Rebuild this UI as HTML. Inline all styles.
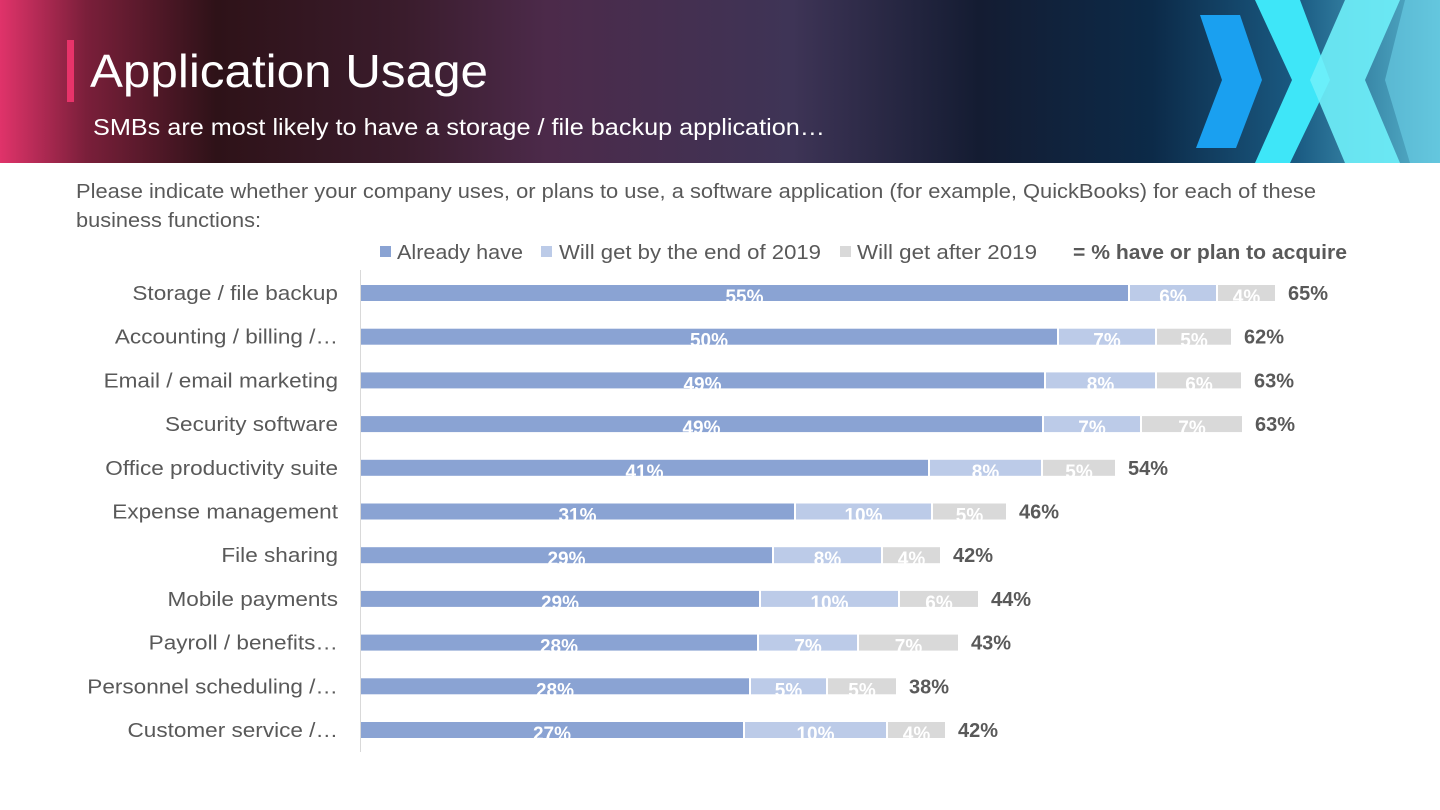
<!DOCTYPE html>
<html><head><meta charset="utf-8"><style>
html,body{margin:0;padding:0;width:1440px;height:810px;overflow:hidden;background:#fff}
svg{display:block}
text{font-family:"Liberation Sans",sans-serif}
</style></head><body>
<svg width="1440" height="810" viewBox="0 0 1440 810" xmlns="http://www.w3.org/2000/svg">
<defs>
<linearGradient id="hg" x1="0" y1="0" x2="1" y2="0">
<stop offset="0" stop-color="#e0336a"/>
<stop offset="0.06" stop-color="#7a1f3a"/>
<stop offset="0.15" stop-color="#2e1218"/>
<stop offset="0.28" stop-color="#3a1c2c"/>
<stop offset="0.38" stop-color="#4c2a4a"/>
<stop offset="0.55" stop-color="#3e3456"/>
<stop offset="0.68" stop-color="#141c32"/>
<stop offset="0.8" stop-color="#0c2a48"/>
<stop offset="0.9" stop-color="#1a5a82"/>
<stop offset="1" stop-color="#5ab8d0"/>
</linearGradient>
</defs>
<rect x="0" y="0" width="1440" height="163" fill="url(#hg)"/>
<polygon points="1200,15 1240,15 1262,80 1236,148 1196,148 1222,80" fill="#1aa0f0"/>
<polygon points="1255,0 1300,0 1330,80 1290,163 1255,163 1292,80" fill="#3ee6f8"/>
<polygon points="1345,0 1400,0 1365,80 1400,163 1345,163 1310,80" fill="#6ff0fa" opacity="0.9"/>
<polygon points="1405,0 1440,0 1440,163 1410,163 1385,80" fill="#6ad0e8" opacity="0.6"/>
<rect x="67" y="40" width="7" height="62" fill="#e8336a"/>
<text x="90" y="87" font-size="46" fill="#fff" textLength="398" lengthAdjust="spacingAndGlyphs">Application Usage</text>
<text x="93" y="135" font-size="23" fill="#fff" textLength="732" lengthAdjust="spacingAndGlyphs">SMBs are most likely to have a storage / file backup application…</text>
<text x="76" y="198" font-size="20" fill="#595959" textLength="1240" lengthAdjust="spacingAndGlyphs">Please indicate whether your company uses, or plans to use, a software application (for example, QuickBooks) for each of these</text>
<text x="76" y="227" font-size="20" fill="#595959" textLength="185" lengthAdjust="spacingAndGlyphs">business functions:</text>
<rect x="380" y="246" width="11" height="11" fill="#8aa3d3"/>
<text x="397" y="259" font-size="20" fill="#595959" textLength="126" lengthAdjust="spacingAndGlyphs">Already have</text>
<rect x="541" y="246" width="11" height="11" fill="#bccbe8"/>
<text x="559" y="259" font-size="20" fill="#595959" textLength="262" lengthAdjust="spacingAndGlyphs">Will get by the end of 2019</text>
<rect x="840" y="246" width="11" height="11" fill="#d9d9d9"/>
<text x="857" y="259" font-size="20" fill="#595959" textLength="180" lengthAdjust="spacingAndGlyphs">Will get after 2019</text>
<text x="1073" y="259" font-size="20" font-weight="bold" fill="#595959" textLength="274" lengthAdjust="spacingAndGlyphs">= % have or plan to acquire</text>
<line x1="360.5" y1="270" x2="360.5" y2="752" stroke="#d9d9d9" stroke-width="1"/>
<g id="bars"></g>
</svg>
<script>
var rows=[
["Storage / file backup",361,1128,1216,1275,55,6,4,65],
["Accounting / billing /…",361,1057,1155,1231,50,7,5,62],
["Email / email marketing",361,1044,1155,1241,49,8,6,63],
["Security software",361,1042,1140,1242,49,7,7,63],
["Office productivity suite",361,928,1041,1115,41,8,5,54],
["Expense management",361,794,931,1006,31,10,5,46],
["File sharing",361,772,881,940,29,8,4,42],
["Mobile payments",361,759,898,978,29,10,6,44],
["Payroll / benefits…",361,757,857,958,28,7,7,43],
["Personnel scheduling /…",361,749,826,896,28,5,5,38],
["Customer service /…",361,743,886,945,27,10,4,42]];
var g=document.getElementById('bars'),h="";
rows.forEach(function(r,i){
 var cy=293+i*43.7,y=cy-8;
 h+='<text class="cat" x="338" y="'+(cy+7)+'" font-size="20.5" fill="#595959" text-anchor="end">'+r[0]+'</text>';
 var segs=[[r[1],r[2],'#8aa3d3',r[5]],[r[2]+2,r[3],'#bccbe8',r[6]],[r[3]+2,r[4],'#d9d9d9',r[7]]];
 segs.forEach(function(s){
  h+='<rect x="'+s[0]+'" y="'+y+'" width="'+(s[1]-s[0])+'" height="16" fill="'+s[2]+'"/>';
  h+='<text x="'+((s[0]+s[1])/2)+'" y="'+(cy+10)+'" font-size="19" font-weight="bold" fill="#fff" text-anchor="middle">'+s[3]+'%</text>';
 });
 h+='<text x="'+(r[4]+13)+'" y="'+(cy+7)+'" font-size="20" font-weight="bold" fill="#595959">'+r[8]+'%</text>';
});
g.innerHTML=h;
var cats=document.querySelectorAll('.cat');
for(var k=0;k<cats.length;k++){var w=cats[k].getComputedTextLength();cats[k].setAttribute('textLength',(w*1.1).toFixed(1));cats[k].setAttribute('lengthAdjust','spacingAndGlyphs');}
</script>
</body></html>
